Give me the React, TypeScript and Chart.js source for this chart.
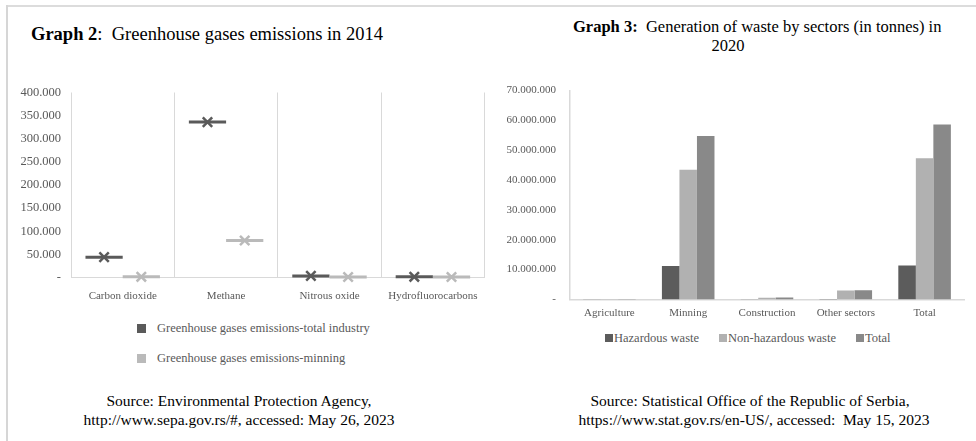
import React, { useEffect, useRef } from 'react';
import { Chart, registerables } from 'chart.js';

Chart.register(...registerables);

// Graph 2 — greenhouse gases emissions in 2014
const gasCategories = ['Carbon dioxide', 'Methane', 'Nitrous oxide', 'Hydrofluorocarbons'];
const gasTotalIndustry = [44000, 336000, 3500, 1500];
const gasMining = [1500, 80000, 1000, 1000];
const gasSeriesNames = [
  'Greenhouse gases emissions-total industry',
  'Greenhouse gases emissions-minning',
];
const gasAxisMax = 400000;
const gasAxisStep = 50000;

// Graph 3 — generation of waste by sectors (tonnes) in 2020
const wasteSectors = ['Agriculture', 'Minning', 'Construction', 'Other sectors', 'Total'];
const wasteHazardous = [20000, 11200000, 30000, 100000, 11350000];
const wasteNonHazardous = [150000, 43500000, 560000, 3000000, 47300000];
const wasteTotal = [170000, 54800000, 600000, 3050000, 58600000];
const wasteSeriesNames = ['Hazardous waste', 'Non-hazardous waste', 'Total'];
const wasteAxisMax = 70000000;
const wasteAxisStep = 10000000;

const SERIF = '"Liberation Serif", "Times New Roman", serif';
const AXIS_TEXT = '#595959';
const AXIS_LINE = '#d9d9d9';

const gasColors = ['#5a5a5a', '#bababa'];
const wasteColors = ['#5c5c5c', '#b1b1b1', '#898989'];

// Thousands separated with dots, zero shown as a dash
const formatTick = (v: number) =>
  v === 0 ? '-' : Math.round(v).toString().replace(/\B(?=(\d{3})+(?!\d))/g, '.');

// Draws each value as a horizontal dash across its bar slot with an "x" marker on top
const dashMarkers = {
  id: 'dashMarkers',
  afterDatasetsDraw(chart: any) {
    const ctx = chart.ctx as CanvasRenderingContext2D;
    chart.data.datasets.forEach((ds: any, i: number) => {
      const meta = chart.getDatasetMeta(i);
      meta.data.forEach((bar: any) => {
        const { x, y, width } = bar.getProps(['x', 'y', 'width'], true);
        ctx.save();
        ctx.strokeStyle = ds.markColor;
        ctx.lineCap = 'butt';
        ctx.lineWidth = 3;
        ctx.beginPath();
        ctx.moveTo(x - width / 2, y);
        ctx.lineTo(x + width / 2, y);
        ctx.stroke();
        const r = 4.7;
        ctx.lineWidth = 2.5;
        ctx.beginPath();
        ctx.moveTo(x - r, y - r);
        ctx.lineTo(x + r, y + r);
        ctx.moveTo(x - r, y + r);
        ctx.lineTo(x + r, y - r);
        ctx.stroke();
        ctx.restore();
      });
    });
  },
};

function GasChart() {
  const ref = useRef<HTMLCanvasElement>(null);
  useEffect(() => {
    if (!ref.current) return;
    const chart = new Chart(ref.current, {
      type: 'bar',
      data: {
        labels: gasCategories,
        datasets: [
          {
            label: gasSeriesNames[0],
            data: gasTotalIndustry,
            backgroundColor: 'rgba(0,0,0,0)',
            borderWidth: 0,
            markColor: gasColors[0],
          } as any,
          {
            label: gasSeriesNames[1],
            data: gasMining,
            backgroundColor: 'rgba(0,0,0,0)',
            borderWidth: 0,
            markColor: gasColors[1],
          } as any,
        ],
      },
      options: {
        animation: false,
        responsive: false,
        maintainAspectRatio: false,
        layout: { padding: { top: 13, right: 4, left: 0, bottom: 0 } },
        datasets: { bar: { categoryPercentage: 0.72, barPercentage: 1 } },
        plugins: { legend: { display: false }, tooltip: { enabled: false } },
        scales: {
          x: {
            grid: { color: AXIS_LINE, lineWidth: 1, drawTicks: false, offset: true },
            border: { color: AXIS_LINE, width: 1 },
            ticks: {
              color: AXIS_TEXT,
              font: { family: SERIF, size: 11 },
              padding: 12,
              maxRotation: 0,
              autoSkip: false,
            },
            afterFit: (s: any) => {
              s.height = 27.5;
            },
          },
          y: {
            min: 0,
            max: gasAxisMax,
            grid: { display: false, drawTicks: false },
            border: { display: false },
            ticks: {
              stepSize: gasAxisStep,
              color: AXIS_TEXT,
              font: { family: SERIF, size: 12.5 },
              padding: 10,
              callback: (v: any) => formatTick(Number(v)),
            },
            afterFit: (s: any) => {
              s.width = 61;
            },
          },
        },
      },
      plugins: [dashMarkers],
    });
    return () => chart.destroy();
  }, []);
  return (
    <canvas
      ref={ref}
      width={480}
      height={230}
      style={{ position: 'absolute', left: 10, top: 75, width: 480, height: 230 }}
    />
  );
}

function WasteChart() {
  const ref = useRef<HTMLCanvasElement>(null);
  useEffect(() => {
    if (!ref.current) return;
    const series = [wasteHazardous, wasteNonHazardous, wasteTotal];
    const chart = new Chart(ref.current, {
      type: 'bar',
      data: {
        labels: wasteSectors,
        datasets: series.map((data, i) => ({
          label: wasteSeriesNames[i],
          data,
          backgroundColor: wasteColors[i],
          borderWidth: 0,
        })),
      },
      options: {
        animation: false,
        responsive: false,
        maintainAspectRatio: false,
        layout: { padding: { top: 11, right: 7, left: 0, bottom: 0 } },
        datasets: { bar: { categoryPercentage: 0.667, barPercentage: 1 } },
        plugins: { legend: { display: false }, tooltip: { enabled: false } },
        scales: {
          x: {
            grid: { display: false, drawTicks: false },
            border: { color: AXIS_LINE, width: 1.5 },
            ticks: {
              color: AXIS_TEXT,
              font: { family: SERIF, size: 11 },
              padding: 7,
              maxRotation: 0,
              autoSkip: false,
            },
            afterFit: (s: any) => {
              s.height = 20.5;
            },
          },
          y: {
            min: 0,
            max: wasteAxisMax,
            grid: { display: false, drawTicks: false },
            border: { color: AXIS_LINE, width: 1.5 },
            ticks: {
              stepSize: wasteAxisStep,
              color: AXIS_TEXT,
              font: { family: SERIF, size: 11 },
              padding: 14,
              callback: (v: any) => formatTick(Number(v)),
            },
            afterFit: (s: any) => {
              s.width = 75;
            },
          },
        },
      },
    });
    return () => chart.destroy();
  }, []);
  return (
    <canvas
      ref={ref}
      width={476}
      height={250}
      style={{ position: 'absolute', left: 495, top: 70, width: 476, height: 250 }}
    />
  );
}

const abs = (left: number, top: number, extra: React.CSSProperties = {}): React.CSSProperties => ({
  position: 'absolute',
  left,
  top,
  whiteSpace: 'pre',
  fontFamily: SERIF,
  color: '#000',
  ...extra,
});

export default function App() {
  return (
    <div
      style={{
        position: 'absolute',
        left: 0,
        top: 0,
        width: 976,
        height: 441,
        background: '#fff',
        overflow: 'hidden',
        fontFamily: SERIF,
      }}
    >
      {/* frame lines */}
      <div style={{ position: 'absolute', left: 6, top: 5, width: 970, height: 2, background: '#dcdcdc' }} />
      <div style={{ position: 'absolute', left: 6, top: 5, width: 2, height: 436, background: '#d6d6d6' }} />

      {/* Graph 2 */}
      <div style={abs(31, 25, { fontSize: 18.5, lineHeight: '18.5px' })}>
        <b>Graph 2</b>:  Greenhouse gases emissions in 2014
      </div>
      <GasChart />
      {gasSeriesNames.map((name, i) => (
        <div
          key={name}
          style={abs(137, 321.5 + i * 29.5, {
            height: 14,
            display: 'flex',
            alignItems: 'center',
            fontSize: 12.5,
            color: AXIS_TEXT,
          })}
        >
          <span style={{ width: 9, height: 9, background: gasColors[i], marginRight: 11, display: 'inline-block' }} />
          {name}
        </div>
      ))}
      <div style={abs(39, 391, { width: 400, textAlign: 'center', fontSize: 15.5, lineHeight: '19px' })}>
        {'Source: Environmental Protection Agency,\nhttp://www.sepa.gov.rs/#, accessed: May 26, 2023'}
      </div>

      {/* Graph 3 */}
      <div style={abs(573, 19, { fontSize: 16.5, lineHeight: '16.5px' })}>
        <b>Graph 3:</b>  Generation of waste by sectors (in tonnes) in
      </div>
      <div style={abs(628, 38, { width: 200, textAlign: 'center', fontSize: 16.5, lineHeight: '16.5px' })}>
        2020
      </div>
      <WasteChart />
      <div
        style={abs(605, 331, {
          height: 14,
          display: 'flex',
          alignItems: 'center',
          fontSize: 12.5,
          color: AXIS_TEXT,
        })}
      >
        {wasteSeriesNames.map((name, i) => (
          <span key={name} style={{ display: 'flex', alignItems: 'center', marginRight: 20 }}>
            <span style={{ width: 8, height: 8, background: wasteColors[i], marginRight: 1, display: 'inline-block' }} />
            {name}
          </span>
        ))}
      </div>
      <div style={abs(550, 391, { width: 400, textAlign: 'center', fontSize: 15.5, lineHeight: '19px' })}>
        Source: Statistical Office of the Republic of Serbia,
      </div>
      <div style={abs(554, 410, { width: 400, textAlign: 'center', fontSize: 15.5, lineHeight: '19px' })}>
        https://www.stat.gov.rs/en-US/, accessed:  May 15, 2023
      </div>
    </div>
  );
}
